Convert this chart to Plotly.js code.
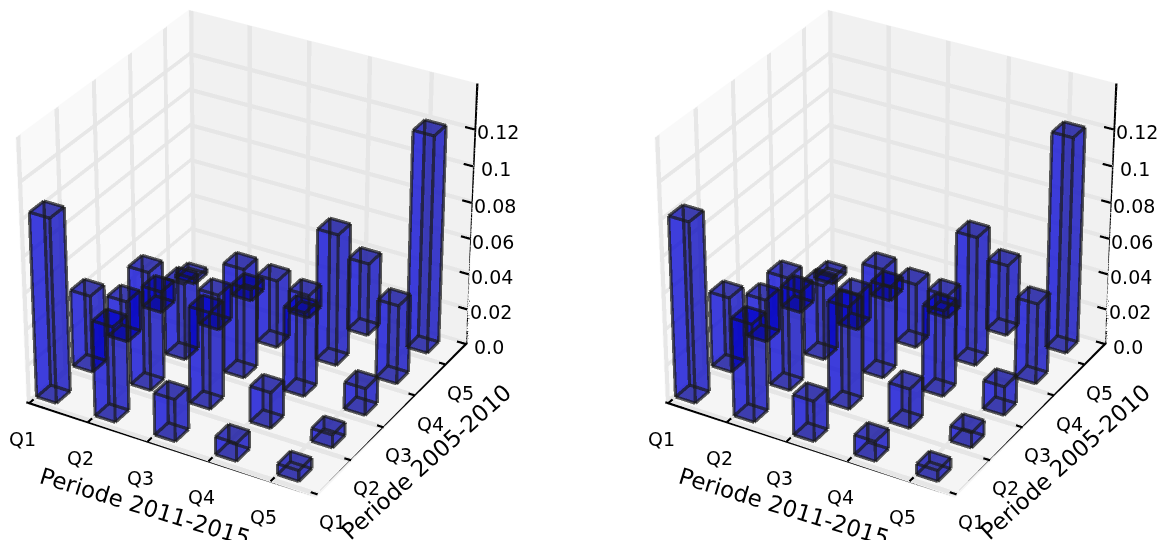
<!DOCTYPE html>
<html><head><meta charset="utf-8">
<script src="https://cdn.plot.ly/plotly-3.0.1.min.js"></script>
<style>html,body{margin:0;padding:0;background:#fff;overflow:hidden;width:1162px;height:540px}
#w{position:relative;width:1162px;height:540px;overflow:hidden}
#c{position:absolute;left:0;top:-1097px}</style>
</head><body><div id="w"><div id="c"></div></div>
<script>
const quarters = ['Q1','Q2','Q3','Q4','Q5'];
const zTickVals = [0,0.02,0.04,0.06,0.08,0.1,0.12];
const zTickText = ['0.0','0.02','0.04','0.06','0.08','0.1','0.12'];
// rows: Periode 2005-2010 Q1..Q5, columns: Periode 2011-2015 Q1..Q5
const leftQ1 = [0.102,0.053,0.0235,0.010,0.006];
const leftQ2 = [0.043,0.066,0.054,0.020,0.0072];
const leftQ3 = [0.023,0.043,0.061,0.047,0.015];
const leftQ4 = [0.012,0.020,0.038,0.0735,0.044];
const leftQ5 = [0.003,0.0065,0.013,0.041,0.121];
const rightQ1 = [0.100,0.0545,0.0225,0.011,0.006];
const rightQ2 = [0.042,0.063,0.057,0.022,0.0085];
const rightQ3 = [0.024,0.042,0.061,0.048,0.016];
const rightQ4 = [0.012,0.020,0.036,0.072,0.045];
const rightQ5 = [0.004,0.008,0.013,0.040,0.120];
const barWX = 0.34, barWY = 0.38, barOffY = 0.15;
const xMin = -0.05, yMin = -0.05, xMax = 4.72, yMax = 4.72, zMin = -0.001, zMax = 0.144;
const H = 2684, R = 10;
const tickPos = [0,1,2,3,4];

function lines(segs,color,width,scene,opacity){
  const x=[],y=[],z=[];
  segs.forEach(s=>{x.push(s[0],s[3],null);y.push(s[1],s[4],null);z.push(s[2],s[5],null);});
  x.pop();y.pop();z.pop();
  return {type:'scatter3d',mode:'lines',scene,x,y,z,line:{color,width},opacity:opacity||1,hoverinfo:'skip',showlegend:false};
}
function boxMesh(boxes,scene,color){
  const X=[],Y=[],Z=[],I=[],J=[],K=[];
  boxes.forEach(q=>{
    const b=X.length;
    q.forEach(p=>{X.push(p[0]);Y.push(p[1]);Z.push(p[2]);});
    I.push(b,b);J.push(b+1,b+2);K.push(b+2,b+3);
  });
  return {type:'mesh3d',scene,x:X,y:Y,z:Z,i:I,j:J,k:K,color,opacity:0.97,flatshading:true,
    lighting:{ambient:1,diffuse:0,specular:0,roughness:1,fresnel:0},hoverinfo:'skip',showscale:false};
}
function frame(sc){
  const hx=0.035,hy=0.055,hz=0.0012,wx=xMin+0.012,wy=yMax-0.012,fz=0;
  const strips=[];
  tickPos.forEach(t=>{
    strips.push([[t-hx,yMin,fz],[t+hx,yMin,fz],[t+hx,yMax,fz],[t-hx,yMax,fz]]);
    strips.push([[t-hx,wy,0],[t+hx,wy,0],[t+hx,wy,zMax],[t-hx,wy,zMax]]);
    strips.push([[xMin,t-hy,fz],[xMin,t+hy,fz],[xMax,t+hy,fz],[xMax,t-hy,fz]]);
    strips.push([[wx,t-hy,0],[wx,t+hy,0],[wx,t+hy,zMax],[wx,t-hy,zMax]]);
  });
  zTickVals.forEach(v=>{
    strips.push([[wx,yMin,v-hz],[wx,yMax,v-hz],[wx,yMax,v+hz],[wx,yMin,v+hz]]);
    strips.push([[xMin,wy,v-hz],[xMax,wy,v-hz],[xMax,wy,v+hz],[xMin,wy,v+hz]]);
  });
  const out=[boxMesh(strips,sc,'#e6e6e6'),
    lines([[xMin,yMin,0,xMax,yMin,0]],'#000',4.5,sc),
    lines([[xMax,yMin,0,xMax,yMax,0]],'#000',4.5,sc),
    lines([[xMax,yMax,0,xMax,yMax,zMax]],'#000',4.5,sc)];
  tickPos.forEach(t=>{
    out.push(lines([[t,yMin,0,t,yMin+0.12,0]],'#000',4.5,sc));
    out.push(lines([[xMax-0.11,t,0,xMax,t,0]],'#000',4.5,sc));
  });
  zTickVals.forEach(v=>out.push(lines([[xMax-0.15,yMax-0.04,v,xMax,yMax-0.04,v]],'#000',4.5,sc)));
  return out;
}
function bars(rows, scene){
  const X=[],Y=[],Z=[],I=[],J=[],K=[],FC=[],segs=[];
  const faces=[[0,1,5,4,'#0000a8'],[1,2,6,5,'#0000e8'],[2,3,7,6,'#0000a8'],[3,0,4,7,'#0000e8'],[4,5,6,7,'#000090'],[0,1,2,3,'#000090']];
  const edges=[[0,1],[1,2],[2,3],[3,0],[4,5],[5,6],[6,7],[7,4],[0,4],[1,5],[2,6],[3,7]];
  rows.forEach((row,j)=>row.forEach((h,i)=>{
    const x0=i,x1=i+barWX,y0=j+barOffY,y1=j+barOffY+barWY,b=X.length;
    [[x0,y0,0],[x1,y0,0],[x1,y1,0],[x0,y1,0],[x0,y0,h],[x1,y0,h],[x1,y1,h],[x0,y1,h]].forEach(p=>{X.push(p[0]);Y.push(p[1]);Z.push(p[2]);});
    faces.forEach(f=>{I.push(b+f[0],b+f[0]);J.push(b+f[1],b+f[2]);K.push(b+f[2],b+f[3]);FC.push(f[4],f[4]);});
    edges.forEach(e=>segs.push([X[b+e[0]],Y[b+e[0]],Z[b+e[0]],X[b+e[1]],Y[b+e[1]],Z[b+e[1]]]));
  }));
  return [
   {type:'mesh3d',scene,x:X,y:Y,z:Z,i:I,j:J,k:K,facecolor:FC,opacity:0.5,flatshading:true,
    lighting:{ambient:1,diffuse:0,specular:0,roughness:1,fresnel:0},hoverinfo:'skip',showscale:false},
   lines(segs,'#1a1a1a',6.5,scene,0.72)
  ];
}
function axis(range,vals,bg){
  return {range,tickmode:'array',tickvals:vals,ticktext:vals.map(()=>''),title:{text:''},showticklabels:false,
    showline:false,ticks:'',showgrid:false,showbackground:true,backgroundcolor:bg,zeroline:false,showspikes:false,autorange:false};
}
function ann(x,y,z,text,xshift,yshift,size,textangle){
  return {x,y,z,text,xshift,yshift,textangle:textangle||0,showarrow:false,xanchor:'center',yanchor:'middle',
    font:{family:'DejaVu Sans',size,color:'#000'}};
}
function annotations(){
  const a=[];
  quarters.forEach((q,i)=>a.push(ann(i,yMin,0,q,-7,-36,19)));
  quarters.forEach((q,i)=>a.push(ann(xMax,i,0,q,15,-28,19)));
  zTickVals.forEach((v,i)=>a.push(ann(xMax,yMax,v,zTickText[i],22,-4,19)));
  a.push(ann(2.36,yMin,0,'Periode 2011-2015',-24,-58,23,17));
  a.push(ann(xMax,2.36,0,'Periode 2005-2010',31,-46,23,-42));
  return a;
}
function scene(dom){
  return {domain:{x:dom,y:[0,1]},aspectmode:'manual',aspectratio:{x:1.03,y:1,z:0.94},dragmode:false,
    camera:{projection:{type:'perspective'},eye:{x:0.433*R,y:-0.75*R,z:0.5*R},center:{x:0,y:0,z:0},up:{x:0,y:0,z:1}},
    xaxis:axis([xMin,xMax],tickPos,'#f9f9f9'),
    yaxis:axis([yMin,yMax],tickPos,'#f1f1f1'),
    zaxis:axis([zMin,zMax],zTickVals,'#f5f5f5'),
    annotations:annotations()};
}
const data=[...frame('scene'),...bars([leftQ1,leftQ2,leftQ3,leftQ4,leftQ5],'scene'),
            ...frame('scene2'),...bars([rightQ1,rightQ2,rightQ3,rightQ4,rightQ5],'scene2')];
const layout={width:1162,height:H,margin:{l:0,r:0,t:0,b:0},paper_bgcolor:'rgba(0,0,0,0)',showlegend:false,
  scene:scene([5/1162,495/1162]),scene2:scene([644/1162,1134/1162])};
Plotly.newPlot('c',data,layout,{displayModeBar:false});
</script></body></html>
